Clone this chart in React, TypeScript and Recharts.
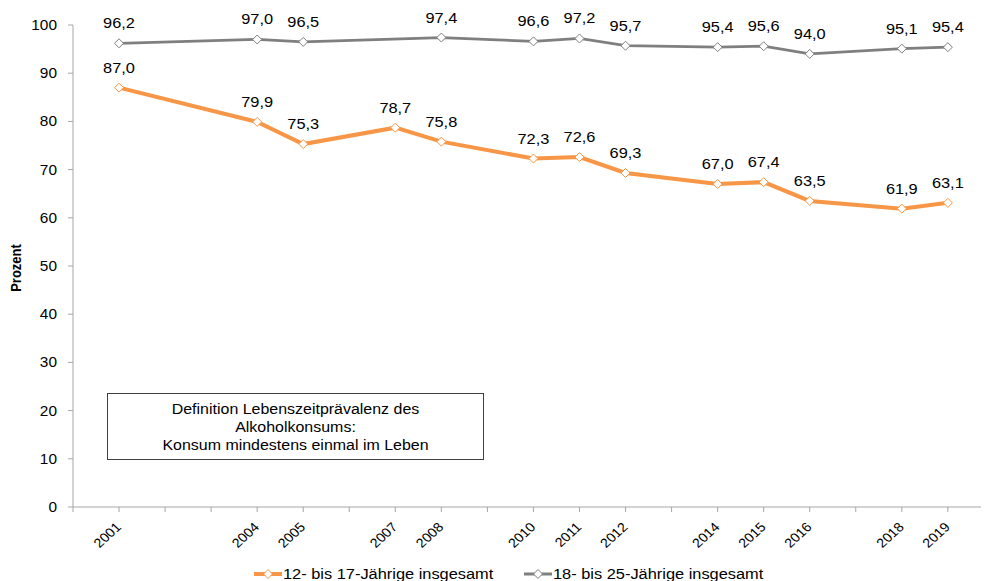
import { LineChart, Line, XAxis, YAxis, Legend, LabelList } from "recharts";

// Lebenszeitprävalenz Alkoholkonsum, in Prozent
const years = [2001, 2004, 2005, 2007, 2008, 2010, 2011, 2012, 2014, 2015, 2016, 2018, 2019];
const teens = [87.0, 79.9, 75.3, 78.7, 75.8, 72.3, 72.6, 69.3, 67.0, 67.4, 63.5, 61.9, 63.1];
const youngAdults = [96.2, 97.0, 96.5, null, 97.4, 96.6, 97.2, 95.7, 95.4, 95.6, 94.0, 95.1, 95.4];
const axisTicks = [2000, 2001, 2002, 2003, 2004, 2005, 2006, 2007, 2008, 2009, 2010, 2011, 2012, 2013, 2014, 2015, 2016, 2017, 2018, 2019];
const yTicks = [0, 10, 20, 30, 40, 50, 60, 70, 80, 90, 100];

const ORANGE = "#F79646";
const GRAY = "#7F7F7F";
const AXIS = "#A6A6A6";
const FONT = "'Liberation Sans', Arial, sans-serif";
// the original export is stretched a bit horizontally, text too
const S = 1.17;
const S_TICK = 1.1;

const data = years.map((year, i) => ({
  year,
  teens: teens[i],
  youngAdults: youngAdults[i],
}));

const fmt = (v: any) => Number(v).toFixed(1).replace(".", ",");

const stretchAt = (x: number, y: number, s = S) => `translate(${x} ${y}) scale(${s} 1) translate(${-x} ${-y})`;

const diamond = (color: string) => (props: any) => {
  const { cx, cy, index } = props;
  if (cx == null || cy == null || props.value == null) return <g key={index} />;
  const r = 4.5;
  return (
    <path
      key={index}
      d={`M${cx},${cy - r}L${cx + r},${cy}L${cx},${cy + r}L${cx - r},${cy}Z`}
      fill="#fff"
      stroke={color}
      strokeWidth={1}
    />
  );
};

const ValueLabel = (props: any) => {
  const vb = props.viewBox ?? props;
  const x = vb.x;
  const y = vb.y;
  if (props.value == null || x == null || y == null) return null;
  const ty = y - 15;
  return (
    <text x={x} y={ty} textAnchor="middle" fontSize={14} fontFamily={FONT} fill="#000" transform={stretchAt(x, ty)}>
      {fmt(props.value)}
    </text>
  );
};

const YearTick = (props: any) => {
  const { x, y, payload } = props;
  if (!years.includes(payload.value)) return <g />;
  const tx = x + 3;
  const ty = y + 14;
  return (
    <text
      x={tx}
      y={ty}
      transform={`translate(${tx} ${ty}) scale(${S_TICK} 1) rotate(-45) translate(${-tx} ${-ty})`}
      textAnchor="end"
      fontSize={13}
      fontFamily={FONT}
      fill="#000"
    >
      {payload.value}
    </text>
  );
};

const PercentTick = (props: any) => {
  const { x, y, payload } = props;
  return (
    <text x={x} y={y} dy="0.355em" textAnchor="end" fontSize={14} fontFamily={FONT} fill="#000" transform={stretchAt(x, y, S_TICK)}>
      {payload.value}
    </text>
  );
};

const AxisTitle = (props: any) => {
  const vb = props.viewBox;
  const x = vb.x + 16;
  const y = vb.y + vb.height / 2 + 2;
  return (
    <text
      x={x}
      y={y}
      dy="0.355em"
      textAnchor="middle"
      fontSize={13}
      fontWeight="bold"
      fontFamily={FONT}
      fill="#000"
      transform={`translate(${x} ${y}) scale(${S} 1) rotate(-90) translate(${-x} ${-y})`}
    >
      Prozent
    </text>
  );
};

const LegendIcon = ({ color, width, left }: { color: string; width: number; left: number }) => (
  <svg width={28} height={12} style={{ position: "absolute", left, top: 11 }}>
    <line x1={0} y1={6} x2={28} y2={6} stroke={color} strokeWidth={width} />
    <path d="M14,1.5L18.5,6L14,10.5L9.5,6Z" fill="#fff" stroke={color} strokeWidth={1} />
  </svg>
);

const legendText: any = {
  position: "absolute",
  top: 9,
  whiteSpace: "nowrap",
  transform: `scaleX(${S})`,
  transformOrigin: "left center",
  lineHeight: "16px",
};

const renderLegend = () => (
  <div style={{ position: "relative", height: 24, fontFamily: FONT, fontSize: 14, color: "#000" }}>
    <LegendIcon color={ORANGE} width={4} left={254} />
    <span style={{ ...legendText, left: 283 }}>12- bis 17-Jährige insgesamt</span>
    <LegendIcon color={GRAY} width={3} left={524} />
    <span style={{ ...legendText, left: 553 }}>18- bis 25-Jährige insgesamt</span>
  </div>
);

const boxLine: any = { transform: "scaleX(1.14)", transformOrigin: "center", whiteSpace: "nowrap" };

export default function App() {
  return (
    <div style={{ position: "absolute", left: 0, top: 0, width: 984, height: 581, background: "#fff", overflow: "hidden" }}>
      <LineChart
        width={984}
        height={581}
        data={data}
        margin={{ top: 25, right: 3, left: 0, bottom: 0 }}
      >
        <XAxis
          dataKey="year"
          type="number"
          domain={[2000, 2019.72]}
          ticks={axisTicks}
          interval={0}
          tick={<YearTick />}
          tickLine={{ stroke: AXIS }}
          axisLine={{ stroke: AXIS }}
          tickSize={5}
          height={50}
          allowDataOverflow
        />
        <YAxis
          domain={[0, 100]}
          ticks={yTicks}
          interval={0}
          width={73}
          tickSize={5}
          tickMargin={11}
          tickLine={{ stroke: AXIS }}
          axisLine={{ stroke: AXIS }}
          tick={<PercentTick />}
          label={{ value: "Prozent", content: AxisTitle }}
        />
        <Legend verticalAlign="bottom" content={renderLegend} height={24} />
        <Line
          dataKey="youngAdults"
          name="18- bis 25-Jährige insgesamt"
          stroke={GRAY}
          strokeWidth={2.75}
          connectNulls
          dot={diamond(GRAY)}
          activeDot={false}
          isAnimationActive={false}
        >
          <LabelList dataKey="youngAdults" content={ValueLabel} />
        </Line>
        <Line
          dataKey="teens"
          name="12- bis 17-Jährige insgesamt"
          stroke={ORANGE}
          strokeWidth={4}
          dot={diamond(ORANGE)}
          activeDot={false}
          isAnimationActive={false}
        >
          <LabelList dataKey="teens" content={ValueLabel} />
        </Line>
      </LineChart>
      <div
        style={{
          position: "absolute",
          left: 107,
          top: 393,
          width: 377,
          height: 67,
          border: "1px solid #404040",
          background: "#fff",
          fontFamily: FONT,
          fontSize: 14,
          lineHeight: "18px",
          textAlign: "center",
          color: "#000",
          display: "flex",
          flexDirection: "column",
          justifyContent: "center",
          paddingTop: 1,
          boxSizing: "border-box",
        }}
      >
        <div style={boxLine}>Definition Lebenszeitprävalenz des</div>
        <div style={boxLine}>Alkoholkonsums:</div>
        <div style={boxLine}>Konsum mindestens einmal im Leben</div>
      </div>
    </div>
  );
}
